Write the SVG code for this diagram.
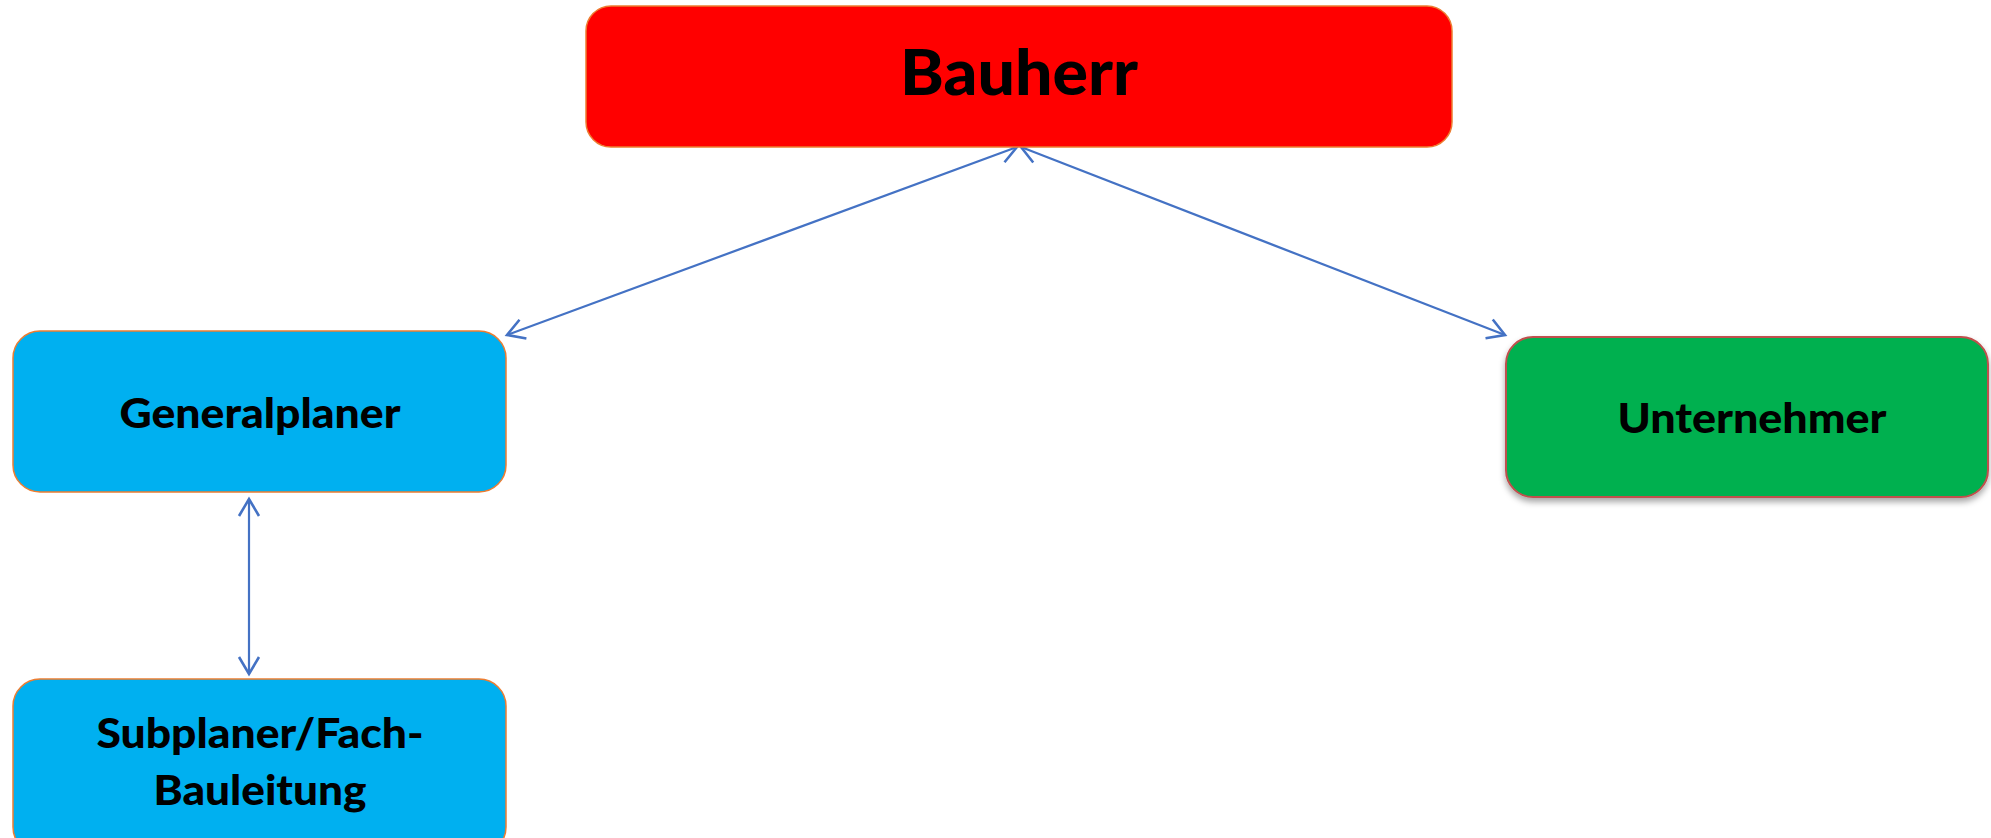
<svg xmlns="http://www.w3.org/2000/svg" width="1991" height="838" viewBox="0 0 1991 838">
  <style>
    .lbl { font-family: Lato, "Open Sans", "Liberation Sans", sans-serif; font-weight: 900; fill: #000000; text-anchor: middle; }
    .conn { stroke: #4472C4; stroke-width: 2.2; fill: none; marker-start: url(#arr); marker-end: url(#arr); }
    .blue { fill: #00B0F0; stroke: #ED7D31; stroke-width: 1.5; }
  </style>
  <defs>
    <marker id="arr" markerUnits="userSpaceOnUse" markerWidth="36" markerHeight="36" viewBox="-24 -18 36 36" refX="0" refY="0" orient="auto-start-reverse">
      <path d="M -17 -10 L 0 0 L -17 10" fill="none" stroke="#4472C4" stroke-width="2.6"/>
    </marker>
    <filter id="shadow" x="-10%" y="-10%" width="130%" height="130%">
      <feDropShadow dx="0" dy="4" stdDeviation="3" flood-color="#000000" flood-opacity="0.35"/>
    </filter>
  </defs>
  <rect width="1991" height="838" fill="#FFFFFF"/>

  <g id="connectors">
    <line class="conn" x1="1017" y1="147" x2="507" y2="335"/>
    <line class="conn" x1="1021" y1="147" x2="1505" y2="335"/>
    <line class="conn" x1="249" y1="499" x2="249" y2="674"/>
  </g>

  <g id="node-bauherr">
    <rect x="586" y="6" width="866" height="141" rx="25" ry="25" fill="#FF0000" stroke="#ED7D31" stroke-width="1.5"/>
    <text class="lbl" x="1019" y="95" font-size="62" textLength="238" lengthAdjust="spacingAndGlyphs">Bauherr</text>
  </g>

  <g id="node-generalplaner">
    <rect class="blue" x="13" y="331" width="493" height="161" rx="27" ry="27"/>
    <text class="lbl" x="260" y="428" font-size="41" textLength="281" lengthAdjust="spacingAndGlyphs">Generalplaner</text>
  </g>

  <g id="node-unternehmer">
    <rect x="1506" y="337" width="482" height="160" rx="27" ry="27" fill="#00B050" stroke="#C0504D" stroke-width="2" filter="url(#shadow)"/>
    <text class="lbl" x="1752" y="433" font-size="41" textLength="269" lengthAdjust="spacingAndGlyphs">Unternehmer</text>
  </g>

  <g id="node-subplaner">
    <rect class="blue" x="13" y="679" width="493" height="175" rx="27" ry="27"/>
    <text class="lbl" x="260" y="748" font-size="41" textLength="327" lengthAdjust="spacingAndGlyphs">Subplaner/Fach-</text>
    <text class="lbl" x="260" y="805" font-size="41" textLength="213" lengthAdjust="spacingAndGlyphs">Bauleitung</text>
  </g>
</svg>
